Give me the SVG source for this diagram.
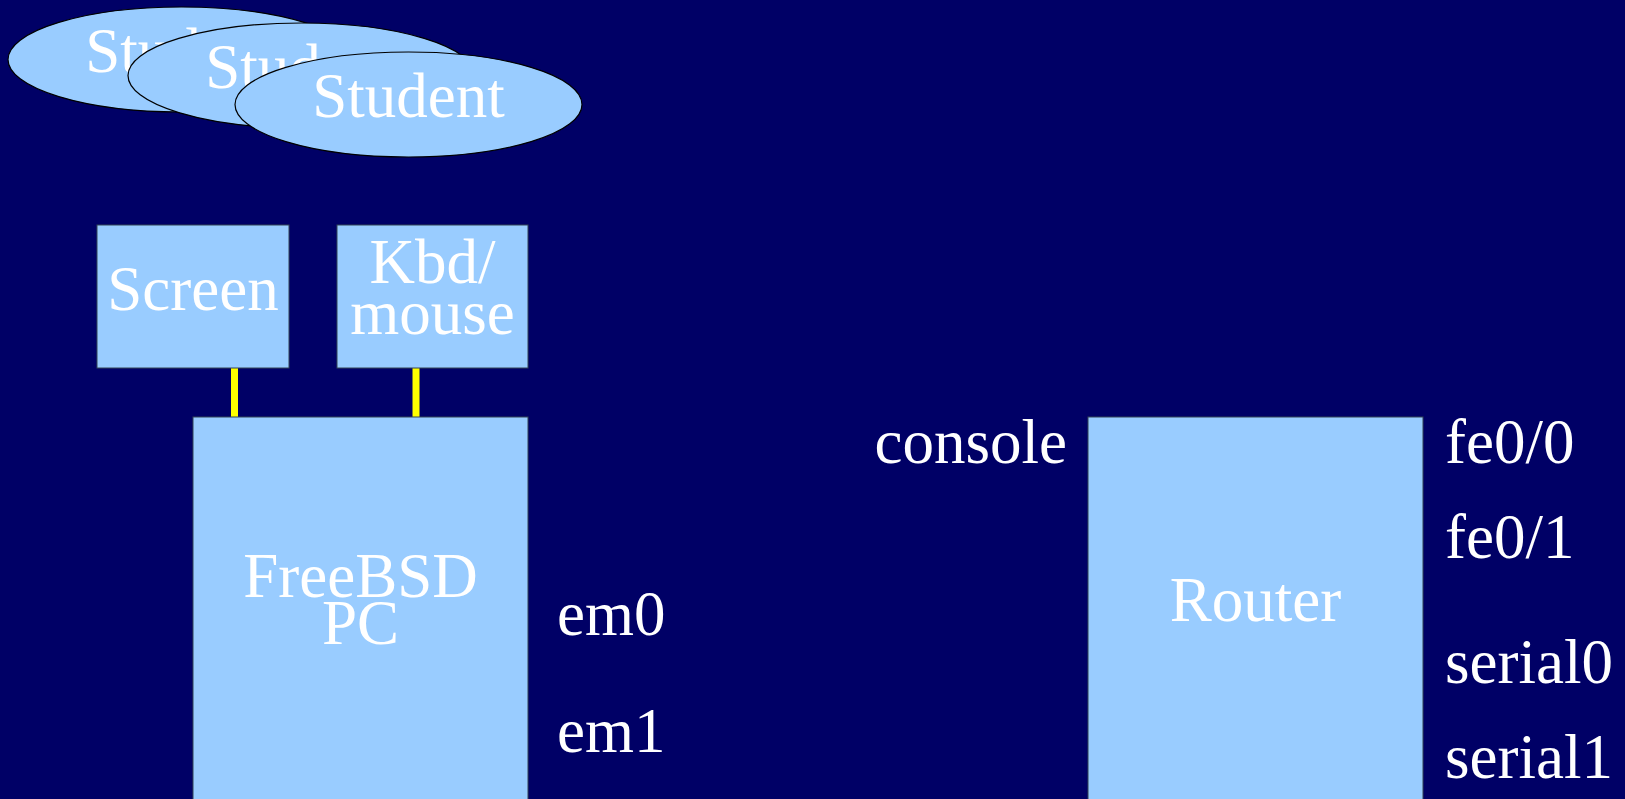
<svg xmlns="http://www.w3.org/2000/svg" width="1625" height="799" viewBox="0 0 1625 799">
<style>
.n{fill:#99ccff;stroke:#334455;stroke-width:1}
.e{fill:#99ccff;stroke:#000000;stroke-width:1.2}
.t{font-family:"Liberation Serif","Times New Roman",serif;font-size:63px;fill:#ffffff}
.c{text-anchor:middle}
.w{stroke:#ffff00;stroke-width:7;fill:none}
</style>
<rect x="0" y="0" width="1625" height="799" fill="#000066"/>
<g id="student1"><ellipse class="e" cx="181.5" cy="59.5" rx="173.5" ry="52.5"/><text class="t c" x="181.5" y="72">Student</text></g>
<g id="student2"><ellipse class="e" cx="301.5" cy="75.5" rx="173.5" ry="52.5"/><text class="t c" x="301.5" y="88">Student</text></g>
<g id="student3"><ellipse class="e" cx="408.5" cy="104.5" rx="173.5" ry="52.5"/><text class="t c" x="408.5" y="117">Student</text></g>
<g id="connectors">
<line class="w" x1="234.5" y1="368" x2="234.5" y2="417"/>
<line class="w" x1="416" y1="368" x2="416" y2="417"/>
</g>
<g id="screen"><rect class="n" x="97" y="225" width="192" height="143"/><text class="t c" x="193" y="310">Screen</text></g>
<g id="kbd"><rect class="n" x="337" y="225" width="191" height="143"/><text class="t c" x="432.5" y="283">Kbd/</text><text class="t c" x="432.5" y="334">mouse</text></g>
<g id="pc"><rect class="n" x="193" y="417" width="335" height="400"/><text class="t c" x="360.5" y="597">FreeBSD</text><text class="t c" x="360.5" y="644">PC</text></g>
<g id="pc-labels"><text class="t" x="557" y="635">em0</text><text class="t" x="557" y="752">em1</text></g>
<g id="router"><rect class="n" x="1088" y="417" width="335" height="400"/><text class="t c" x="1255.5" y="621">Router</text></g>
<g id="router-labels">
<text class="t" x="1067" y="463" text-anchor="end">console</text>
<text class="t" x="1445" y="463">fe0/0</text>
<text class="t" x="1445" y="558">fe0/1</text>
<text class="t" x="1445" y="683">serial0</text>
<text class="t" x="1445" y="778">serial1</text>
</g>
</svg>
